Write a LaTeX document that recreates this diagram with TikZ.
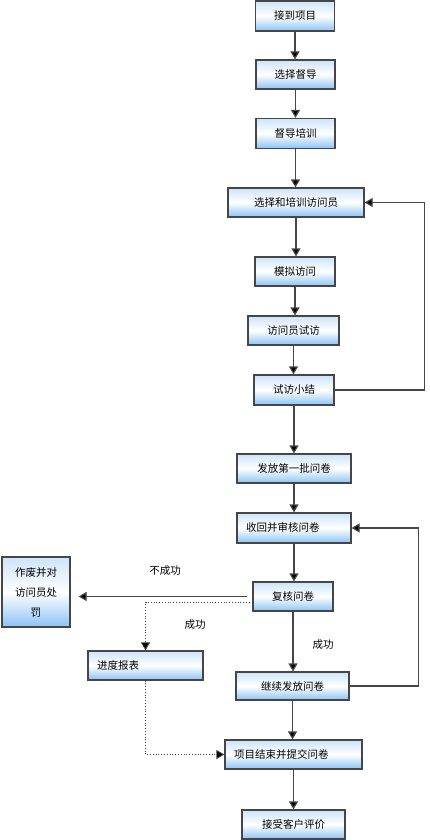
\documentclass[tikz,border=0pt]{standalone}
\usepackage{fontspec}
\setmainfont{Noto Sans CJK SC}
\usetikzlibrary{arrows.meta}
\definecolor{boxtop}{RGB}{205,228,250}
\definecolor{boxbot}{RGB}{140,195,245}
\definecolor{linegray}{RGB}{70,70,70}
\begin{document}
\begin{tikzpicture}[x=1pt,y=-1pt,
  box/.style={draw=linegray, line width=1.2pt, top color=boxtop, bottom color=boxbot, middle color=white,
    minimum height=29pt, inner xsep=0pt, inner ysep=0pt, font=\fontsize{10.5pt}{20pt}\selectfont},
  lbox/.style={box, inner xsep=9pt, align=left},
  arr/.style={draw=linegray, line width=1.2pt, -{Triangle[width=9pt,length=8pt,fill=black]}},
  dots/.style={arr, line width=0.8pt, dotted},
  lab/.style={font=\fontsize{10.5pt}{12pt}\selectfont}]
\useasboundingbox (0,0) rectangle (430,840);
\node[box, minimum width=79pt, minimum height=30pt] (A) at (295,16) {接到项目};
\node[box, minimum width=79pt] (B) at (295.5,74.5) {选择督导};
\node[box, minimum width=79pt, minimum height=30pt] (C) at (295.5,133.5) {督导培训};
\node[box, minimum width=136pt] (D) at (296,202.5) {选择和培训访问员};
\node[box, minimum width=80pt] (E) at (295,271.5) {模拟访问};
\node[box, minimum width=91pt] (F) at (293.5,330.5) {访问员试访};
\node[box, minimum width=80pt, minimum height=30pt] (G) at (294,390) {试访小结};
\node[box, minimum width=114pt] (H) at (294,468.5) {发放第一批问卷};
\node[lbox, text width=96pt, minimum height=30pt] (I) at (294,528) {收回并审核问卷};
\node[box, minimum width=80pt] (J) at (293,596.5) {复核问卷};
\node[box, minimum width=68pt, minimum height=70pt, align=center] (K) at (36,592) {作废并对\\访问员处\\罚};
\node[lbox, text width=97pt] (L) at (145.5,665.5) {进度报表};
\node[box, minimum width=113pt, minimum height=28pt] (M) at (292.5,686) {继续发放问卷};
\node[lbox, text width=119pt] (N) at (293.5,754.5) {项目结束并提交问卷};
\node[box, minimum width=103pt] (O) at (293.5,824.5) {接受客户评价};
\draw[arr] (A.south) -- (A.south |- B.north);
\draw[arr] (B.south) -- (B.south |- C.north);
\draw[arr] (C.south) -- (C.south |- D.north);
\draw[arr] (D.south) -- (D.south |- E.north);
\draw[arr] (E.south) -- (E.south |- F.north);
\draw[arr] (F.south) -- (F.south |- G.north);
\draw[arr] (G.south) -- (G.south |- H.north);
\draw[arr] (H.south) -- (H.south |- I.north);
\draw[arr] (I.south) -- (I.south |- J.north);
\draw[arr] (J.south) -- (J.south |- M.north);
\draw[arr] (M.south) -- (M.south |- N.north);
\draw[arr] (N.south) -- (N.south |- O.north);
\draw[arr] (G.east) -- ++(90,0) |- (D.east);
\draw[arr] (M.east) -- ++(69,0) |- (I.east);
\draw[arr, shorten <=5pt, shorten >=8pt] (J.west) -- (J.west -| K.east);
\draw[dots] ([yshift=-5.5pt]J.west) -| (L.north);
\draw[dots] (L.south) |- (N.west);
\node[lab] (fail) at (165,571) {不成功};
\node[lab] (ok1) at (195,625) {成功};
\node[lab] (ok2) at (323,645) {成功};
\end{tikzpicture}
\end{document}
